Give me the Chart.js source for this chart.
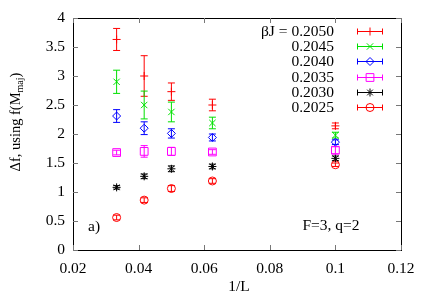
<!DOCTYPE html>
<html lang="en">
<head>
    <meta charset="UTF-8">
    <title>Delta f vs 1/L</title>
    <script src="https://cdn.jsdelivr.net/npm/chart.js@4.4.1/dist/chart.umd.min.js"></script>
    <style>
        body { margin: 0; background: #fff; }
        canvas { display: block; }
    </style>
</head>
<body>
    <canvas id="dfChart" width="429" height="300"></canvas>

    <script>
        // 1/L for L = 30, 24, 20, 16, 10
        const invL = [0.0333, 0.0417, 0.05, 0.0625, 0.1];

        const labels = ['βJ = 0.2050', '0.2045', '0.2040', '0.2035', '0.2030', '0.2025'];

        const df2050 = [3.63, 3.00, 2.73, 2.50, 2.14];
        const err2050 = [0.19, 0.35, 0.15, 0.10, 0.05];
        const df2045 = [2.90, 2.50, 2.38, 2.19, 1.98];
        const err2045 = [0.20, 0.24, 0.17, 0.10, 0.05];
        const df2040 = [2.31, 2.10, 2.01, 1.94, 1.86];
        const err2040 = [0.11, 0.11, 0.08, 0.06, 0.04];
        const df2035 = [1.68, 1.70, 1.70, 1.69, 1.72];
        const err2035 = [0.04, 0.10, 0.07, 0.04, 0.06];
        const df2030 = [1.08, 1.27, 1.40, 1.44, 1.58];
        const err2030 = [0.03, 0.04, 0.05, 0.04, 0.04];
        const df2025 = [0.56, 0.86, 1.06, 1.19, 1.47];
        const err2025 = [0.04, 0.04, 0.05, 0.04, 0.03];

        const xTicks = [0.02, 0.04, 0.06, 0.08, 0.1, 0.12];
        const yTicks = [0, 0.5, 1, 1.5, 2, 2.5, 3, 3.5, 4];

        const series = [
            { y: df2050, e: err2050, color: '#ff0000', style: 'cross', r: 4 },
            { y: df2045, e: err2045, color: '#00e000', style: 'crossRot', r: 4.5 },
            { y: df2040, e: err2040, color: '#0000ff', style: 'rectRot', r: 4 },
            { y: df2035, e: err2035, color: '#ff00ff', style: 'rect', r: 5.5 },
            { y: df2030, e: err2030, color: '#000000', style: 'star', r: 4 },
            { y: df2025, e: err2025, color: '#ff0000', style: 'circle', r: 4 }
        ];

        const FONT = '"Liberation Serif", "Times New Roman", serif';

        const datasets = series.map((s, i) => ({
            label: labels[i],
            data: invL.map((x, j) => ({ x: x, y: s.y[j] })),
            errors: s.e,
            showLine: false,
            borderColor: s.color,
            backgroundColor: 'rgba(0,0,0,0)',
            borderWidth: 1,
            pointStyle: s.style,
            pointRadius: s.r
        }));

        // error bars, inward ticks, frame, legend and text
        const extras = {
            id: 'extras',
            beforeDatasetsDraw(chart) {
                const ctx = chart.ctx;
                const xs = chart.scales.x, ys = chart.scales.y;
                ctx.save();
                ctx.lineWidth = 1;
                chart.data.datasets.forEach(ds => {
                    ctx.strokeStyle = ds.borderColor;
                    ds.data.forEach((p, j) => {
                        const px = xs.getPixelForValue(p.x);
                        const top = ys.getPixelForValue(p.y + ds.errors[j]);
                        const bot = ys.getPixelForValue(p.y - ds.errors[j]);
                        ctx.beginPath();
                        ctx.moveTo(px, top); ctx.lineTo(px, bot);
                        ctx.moveTo(px - 3.5, top); ctx.lineTo(px + 3.5, top);
                        ctx.moveTo(px - 3.5, bot); ctx.lineTo(px + 3.5, bot);
                        ctx.stroke();
                    });
                });
                ctx.restore();
            },
            afterDraw(chart) {
                const ctx = chart.ctx;
                const a = chart.chartArea;
                const xs = chart.scales.x, ys = chart.scales.y;
                ctx.save();
                ctx.strokeStyle = '#000';
                ctx.lineWidth = 1;
                ctx.strokeRect(Math.round(a.left) + 0.5, Math.round(a.top) + 0.5,
                    Math.round(a.right - a.left), Math.round(a.bottom - a.top));

                ctx.strokeStyle = '#777';
                ctx.beginPath();
                xTicks.forEach(v => {
                    const px = Math.round(xs.getPixelForValue(v)) + 0.5;
                    ctx.moveTo(px, a.bottom); ctx.lineTo(px, a.bottom - 5);
                    ctx.moveTo(px, a.top); ctx.lineTo(px, a.top + 5);
                });
                yTicks.forEach(v => {
                    const py = Math.round(ys.getPixelForValue(v)) + 0.5;
                    ctx.moveTo(a.left, py); ctx.lineTo(a.left + 5, py);
                    ctx.moveTo(a.right, py); ctx.lineTo(a.right - 5, py);
                });
                ctx.stroke();

                // legend
                ctx.font = '15.5px ' + FONT;
                ctx.textAlign = 'right';
                ctx.textBaseline = 'middle';
                chart.data.datasets.forEach((ds, i) => {
                    const y = 31 + i * 15.2;
                    ctx.fillStyle = '#000';
                    ctx.fillText(ds.label, 334, y + 1);
                    const x0 = 357, x1 = 383, yy = Math.round(y) + 0.5;
                    ctx.strokeStyle = ds.borderColor;
                    ctx.fillStyle = 'rgba(0,0,0,0)';
                    ctx.beginPath();
                    ctx.moveTo(x0, yy); ctx.lineTo(x1, yy);
                    ctx.moveTo(x0 + 0.5, yy - 3); ctx.lineTo(x0 + 0.5, yy + 3);
                    ctx.moveTo(x1 - 0.5, yy - 3); ctx.lineTo(x1 - 0.5, yy + 3);
                    ctx.stroke();
                    Chart.helpers.drawPoint(ctx, { pointStyle: ds.pointStyle, radius: ds.pointRadius, borderWidth: 1 }, (x0 + x1) / 2, yy);
                });

                // annotations
                ctx.fillStyle = '#000';
                ctx.textBaseline = 'alphabetic';
                ctx.textAlign = 'left';
                ctx.fillText('a)', 88, 231);
                ctx.textAlign = 'center';
                ctx.fillText('F=3, q=2', 331, 230);

                // axis titles
                ctx.fillText('1/L', 239, 291);

                ctx.translate(20, 122);
                ctx.rotate(-Math.PI / 2);
                const main = 'Δf, using f(M', sub = 'maj', end = ')';
                ctx.font = '14.5px ' + FONT;
                const w1 = ctx.measureText(main).width;
                const w3 = ctx.measureText(end).width;
                ctx.font = '10px ' + FONT;
                const w2 = ctx.measureText(sub).width;
                let x = -(w1 + w2 + w3) / 2;
                ctx.textAlign = 'left';
                ctx.textBaseline = 'alphabetic';
                ctx.font = '14.5px ' + FONT;
                ctx.fillText(main, x, 0);
                x += w1;
                ctx.font = '10px ' + FONT;
                ctx.fillText(sub, x, 3);
                x += w2;
                ctx.font = '14.5px ' + FONT;
                ctx.fillText(end, x, 0);
                ctx.restore();
            }
        };

        const ctx = document.getElementById('dfChart').getContext('2d');
        new Chart(ctx, {
            type: 'scatter',
            data: { datasets: datasets },
            plugins: [extras],
            options: {
                responsive: false,
                animation: false,
                devicePixelRatio: 1,
                events: [],
                layout: { padding: { left: 0, right: 28, top: 18, bottom: 0 } },
                plugins: { legend: { display: false }, tooltip: { enabled: false } },
                scales: {
                    x: {
                        type: 'linear',
                        min: 0.02, max: 0.12,
                        afterFit(scale) { scale.height = 50; },
                        afterBuildTicks(scale) { scale.ticks = xTicks.map(v => ({ value: v })); },
                        grid: { display: false, drawTicks: false },
                        border: { display: false },
                        ticks: {
                            padding: 10,
                            color: '#000',
                            font: { family: FONT, size: 15.5 },
                            callback: v => String(Number(v.toFixed(2)))
                        }
                    },
                    y: {
                        type: 'linear',
                        min: 0, max: 4,
                        afterFit(scale) { scale.width = 73; },
                        afterBuildTicks(scale) { scale.ticks = yTicks.map(v => ({ value: v })); },
                        grid: { display: false, drawTicks: false },
                        border: { display: false },
                        ticks: {
                            padding: 8,
                            color: '#000',
                            font: { family: FONT, size: 15.5 },
                            callback: v => String(Number(v.toFixed(1)))
                        }
                    }
                }
            }
        });
    </script>
</body>
</html>
